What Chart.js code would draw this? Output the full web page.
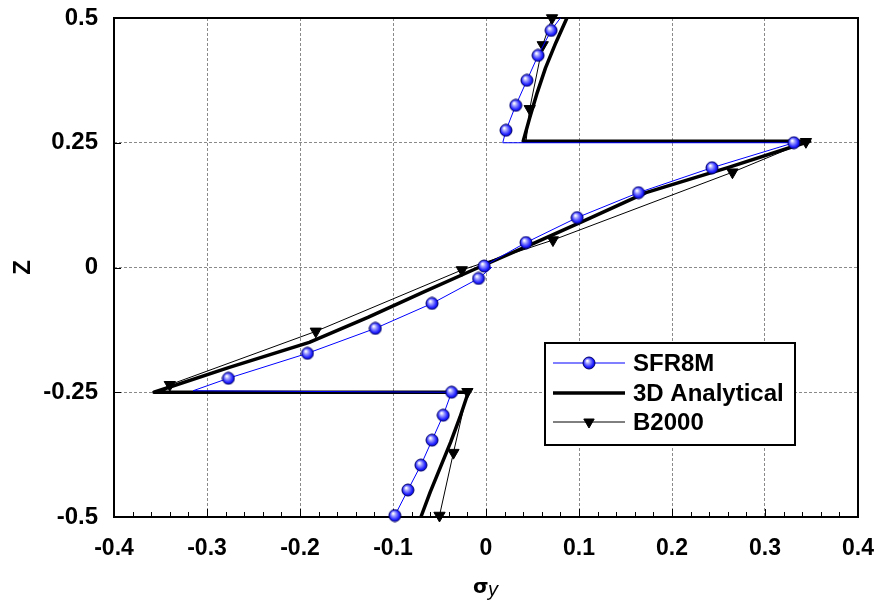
<!DOCTYPE html>
<html>
<head>
<meta charset="utf-8">
<title>sigma_y along z</title>
<script src="https://cdn.jsdelivr.net/npm/chart.js@4.4.1/dist/chart.umd.min.js"></script>
<style>
  html, body { margin: 0; padding: 0; background: #fff; }
  #wrap { width: 877px; height: 603px; }
</style>
</head>
<body>
<div id="wrap"><canvas id="chart-sigma" width="877" height="603"></canvas></div>
<script>
/* ---------- data ---------- */
const xTicks = [-0.4, -0.3, -0.2, -0.1, 0, 0.1, 0.2, 0.3, 0.4]
const xTickLabels = ['-0.4', '-0.3', '-0.2', '-0.1', '0', '0.1', '0.2', '0.3', '0.4']
const yTicks = [-0.5, -0.25, 0, 0.25, 0.5]
const yTickLabels = ['-0.5', '-0.25', '0', '0.25', '0.5']

// SFR8M : line vertices, 1 = vertex carries a marker
const sfrX = [0.080, 0.070, 0.056, 0.044, 0.032, 0.0215, 0.018, 0.331, 0.243, 0.164, 0.098, 0.043, -0.002, 0.006,
  -0.008, -0.058, -0.119, -0.192, -0.277, -0.315, -0.037, -0.046, -0.058, -0.070, -0.084, -0.098]
const sfrY = [0.500, 0.475, 0.425, 0.375, 0.325, 0.275, 0.250, 0.250, 0.200, 0.150, 0.100, 0.050, 0.003, 0.000,
  -0.022, -0.072, -0.122, -0.172, -0.222, -0.247, -0.250, -0.296, -0.346, -0.396, -0.446, -0.497]
const sfrMark = [0, 1, 1, 1, 1, 1, 0, 1, 1, 1, 1, 1, 1, 0,
  1, 1, 1, 1, 1, 0, 1, 1, 1, 1, 1, 1]

// 3D Analytical : line only
const anaX = [0.087, 0.075, 0.064, 0.055, 0.047, 0.040, 0.348, 0.260, 0.172, 0.113, 0.053, -0.008,
  -0.068, -0.127, -0.190, -0.276, -0.357, -0.019, -0.028, -0.038, -0.049, -0.060, -0.070]
const anaY = [0.500, 0.450, 0.400, 0.350, 0.300, 0.253, 0.253, 0.200, 0.150, 0.100, 0.050, 0.000,
  -0.050, -0.100, -0.150, -0.200, -0.250, -0.250, -0.300, -0.350, -0.400, -0.450, -0.500]

// B2000 : line vertices, 1 = vertex carries a marker
const b2kX = [0.071, 0.061, 0.047, 0.043, 0.344, 0.265, 0.072, -0.026, -0.183, -0.340, -0.352, -0.020, -0.035, -0.050]
const b2kY = [0.500, 0.446, 0.318, 0.252, 0.252, 0.191, 0.055, -0.005, -0.128, -0.235, -0.250, -0.249, -0.371, -0.497]
const b2kMark = [1, 1, 1, 0, 1, 1, 1, 1, 1, 1, 0, 1, 1, 1]

/* ---------- marker : blue shaded ball ---------- */
function makeBall() {
  const c = document.createElement('canvas')
  c.width = 14; c.height = 14
  const g = c.getContext('2d')
  const grad = g.createRadialGradient(5.2, 4.8, 0.5, 7, 7, 6.5)
  grad.addColorStop(0, '#ffffff')
  grad.addColorStop(0.3, '#9a9aff')
  grad.addColorStop(0.75, '#1a1aff')
  grad.addColorStop(1, '#0000b0')
  g.beginPath(); g.arc(7, 7, 6, 0, Math.PI * 2)
  g.fillStyle = grad; g.fill()
  g.lineWidth = 1; g.strokeStyle = '#00006a'; g.stroke()
  return c
}
const ball = makeBall()
const FONT = "'Liberation Sans', Arial, sans-serif"

function pts(xs, ys) { return xs.map((x, i) => ({ x: x, y: ys[i] })) }

// no extra room for overflowing tick labels, the layout padding does it
function noPad(s) { s.paddingTop = 0; s.paddingBottom = 0; s.paddingLeft = 0; s.paddingRight = 0 }

/* ---------- plugins ---------- */
// black frame + inward ticks
const framePlugin = {
  id: 'frame',
  beforeDatasetsDraw(chart) {
    const { ctx, chartArea: a, scales } = chart
    ctx.save()
    ctx.strokeStyle = '#000'
    ctx.lineWidth = 1
    // minor ticks bottom every 0.02
    for (let k = -20; k <= 20; k++) {
      const px = Math.round(scales.x.getPixelForValue(k * 0.02)) + 0.5
      ctx.beginPath(); ctx.moveTo(px, a.bottom); ctx.lineTo(px, a.bottom - (k % 5 === 0 ? 8 : 5)); ctx.stroke()
    }
    yTicks.forEach(v => {
      const py = Math.round(scales.y.getPixelForValue(v)) + 0.5
      ctx.beginPath(); ctx.moveTo(a.left, py); ctx.lineTo(a.left + 7, py); ctx.stroke()
    })
    ctx.lineWidth = 2
    ctx.strokeRect(a.left, a.top, a.right - a.left, a.bottom - a.top)
    ctx.restore()
  }
}

// boxed legend inside the plot + x axis title with subscript
const legendPlugin = {
  id: 'legendBox',
  afterDraw(chart) {
    const ctx = chart.ctx
    const x0 = 545, y0 = 343, w = 250, h = 102
    ctx.save()
    ctx.fillStyle = '#fff'
    ctx.fillRect(x0, y0, w, h)
    ctx.lineWidth = 2
    ctx.strokeStyle = '#000'
    ctx.strokeRect(x0, y0, w, h)
    const rows = [20, 50, 79]
    chart.data.datasets.forEach((ds, i) => {
      const y = y0 + rows[i]
      ctx.beginPath()
      ctx.lineWidth = ds.borderWidth
      ctx.strokeStyle = ds.borderColor
      ctx.moveTo(x0 + 8, y); ctx.lineTo(x0 + 80, y); ctx.stroke()
      if (ds.legendMarker) {
        ctx.fillStyle = '#000'
        ctx.strokeStyle = '#000'
        ctx.lineWidth = 1
        Chart.helpers.drawPoint(ctx, { pointStyle: ds.pointStyle, radius: 6, rotation: ds.rotation || 0, borderWidth: 1 }, x0 + 44, y)
      }
      ctx.fillStyle = '#000'
      ctx.font = 'bold 24px ' + FONT
      ctx.textBaseline = 'middle'
      ctx.fillText(ds.label, x0 + 88, y + 1)
    })
    // x title  sigma_y
    ctx.fillStyle = '#000'
    ctx.textBaseline = 'alphabetic'
    ctx.font = "bold 20px 'DejaVu Sans', sans-serif"
    ctx.fillText('σ', 473, 593)
    ctx.font = "italic 20px 'Liberation Sans', Arial, sans-serif"
    ctx.fillText('y', 488, 596)
    ctx.restore()
  }
}

/* ---------- chart ---------- */
const ctx = document.getElementById('chart-sigma')

new Chart(ctx, {
  type: 'scatter',
  data: {
    datasets: [{
      label: 'SFR8M',
      data: pts(sfrX, sfrY),
      showLine: true,
      borderColor: '#0000ff',
      borderWidth: 1,
      pointStyle: ball,
      legendMarker: true,
      pointRadius: c => sfrMark[c.dataIndex] ? 6 : 0,
      pointHoverRadius: c => sfrMark[c.dataIndex] ? 6 : 0,
      clip: false,
      order: 1
    }, {
      label: '3D Analytical',
      data: pts(anaX, anaY),
      showLine: true,
      borderColor: '#000',
      borderWidth: 3.5,
      borderJoinStyle: 'round',
      pointRadius: 0,
      pointHoverRadius: 0,
      clip: false,
      order: 3
    }, {
      label: 'B2000',
      data: pts(b2kX, b2kY),
      showLine: true,
      borderColor: '#000',
      borderWidth: 1,
      backgroundColor: '#000',
      pointStyle: 'triangle',
      rotation: 180,
      legendMarker: true,
      pointBorderWidth: 1,
      pointRadius: c => b2kMark[c.dataIndex] ? 6.5 : 0,
      pointHoverRadius: c => b2kMark[c.dataIndex] ? 6.5 : 0,
      clip: false,
      order: 2
    }]
  },
  options: {
    responsive: false,
    animation: false,
    events: [],
    layout: { autoPadding: false, padding: { left: 0, right: 19, top: 18, bottom: 0 } },
    plugins: {
      legend: { display: false },
      tooltip: { enabled: false }
    },
    scales: {
      x: {
        type: 'linear',
        min: -0.4,
        max: 0.4,
        afterBuildTicks: s => { s.ticks = xTicks.map(v => ({ value: v })) },
        afterFit: s => { s.height = 86; noPad(s) },
        ticks: {
          callback: (v, i) => xTickLabels[i],
          font: { family: FONT, size: 23, weight: 'bold' },
          color: '#000',
          padding: 18,
          maxRotation: 0,
          autoSkip: false
        },
        grid: { color: '#8a8a8a', lineWidth: 1, drawTicks: false },
        border: { display: false, dash: [3, 2] }
      },
      y: {
        type: 'linear',
        min: -0.5,
        max: 0.5,
        afterBuildTicks: s => { s.ticks = yTicks.map(v => ({ value: v })) },
        afterFit: s => { s.width = 114; noPad(s) },
        ticks: {
          callback: (v, i) => yTickLabels[i],
          font: { family: FONT, size: 24, weight: 'bold' },
          color: '#000',
          padding: 16
        },
        title: {
          display: true,
          text: 'Z',
          color: '#000',
          font: { family: FONT, size: 24, weight: 'bold' },
          padding: { top: 9, bottom: 0 }
        },
        grid: { color: '#8a8a8a', lineWidth: 1, drawTicks: false },
        border: { display: false, dash: [3, 2] }
      }
    }
  },
  plugins: [framePlugin, legendPlugin]
})
</script>
</body>
</html>
